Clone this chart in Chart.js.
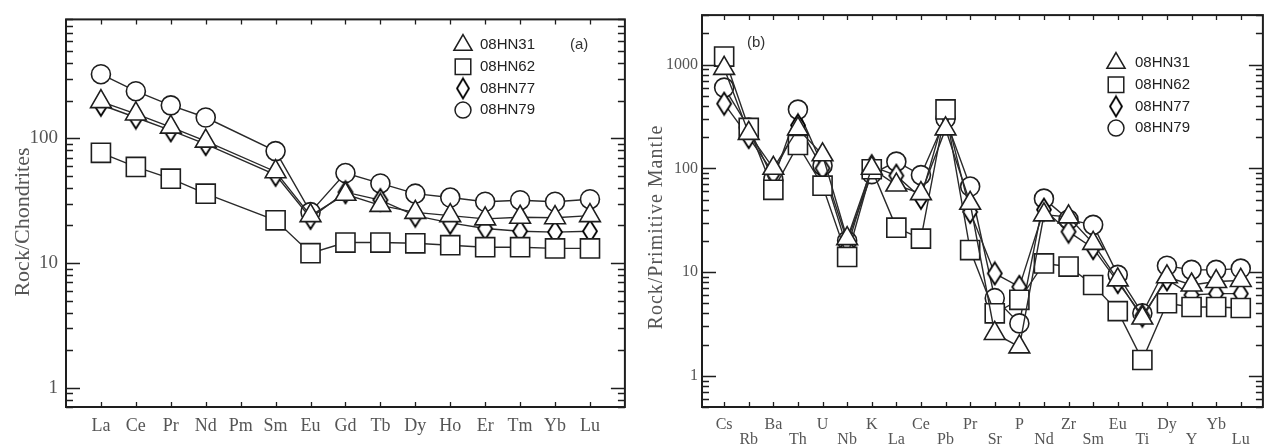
<!DOCTYPE html>
<html lang="en">
<head>
    <meta charset="UTF-8">
    <title>08HN samples - REE and spider diagrams</title>
    <script src="https://cdn.jsdelivr.net/npm/chart.js"></script>
    <style>
        html, body {
            margin: 0;
            padding: 0;
            background: #fff;
        }
        body {
            position: relative;
            width: 1278px;
            height: 445px;
            overflow: hidden;
        }
        canvas {
            position: absolute;
            top: 0;
        }
        #reeChart { left: 0; }
        #spiderChart { left: 640px; }
    </style>
</head>
<body>
    <canvas id="reeChart" width="640" height="445"></canvas>
    <canvas id="spiderChart" width="638" height="445"></canvas>
    <script>
        // sample names (legend order)
        const sampleNames = ['08HN31', '08HN62', '08HN77', '08HN79'];

        // (a) chondrite-normalised REE
        const reeLabels = ['La', 'Ce', 'Pr', 'Nd', 'Pm', 'Sm', 'Eu', 'Gd', 'Tb', 'Dy', 'Ho', 'Er', 'Tm', 'Yb', 'Lu'];
        const ree08HN31 = [197, 157, 123, 95, null, 54, 24, 35.6, 29, 25.5, 24, 22.6, 23.3, 23.1, 24];
        const ree08HN62 = [76.6, 59, 47.5, 36, null, 22, 12, 14.6, 14.6, 14.4, 13.9, 13.4, 13.4, 13.1, 13.1];
        const ree08HN77 = [186, 147, 116, 90, null, 51, 23, 37, 32, 24, 21, 18.9, 18, 17.7, 18];
        const ree08HN79 = [327, 239, 184, 147, null, 79, 25.6, 52.7, 43.5, 36, 33.5, 31, 31.9, 31, 32.5];
        const reeYTicks = [1, 10, 100];

        // (b) primitive-mantle-normalised trace elements
        const spiderLabels = ['Cs', 'Rb', 'Ba', 'Th', 'U', 'Nb', 'K', 'La', 'Ce', 'Pb', 'Pr', 'Sr', 'P', 'Nd', 'Zr', 'Sm', 'Eu', 'Ti', 'Dy', 'Y', 'Yb', 'Lu'];
        const sp08HN31 = [920, 217, 100, 240, 135, 21, 100, 69, 57, 240, 46, 2.56, 1.9, 35.6, 34, 18.9, 8.4, 3.6, 9.0, 7.5, 8.1, 8.3];
        const sp08HN62 = [1195, 245, 62, 168, 68, 14, 98, 26.8, 21, 370, 16.3, 4.0, 5.4, 12.1, 11.3, 7.5, 4.2, 1.42, 5.0, 4.6, 4.6, 4.5];
        const sp08HN77 = [420, 200, 90, 260, 100, 17, 105, 85, 52, 350, 38, 9.7, 7.2, 40, 24.5, 17, 8, 3.8, 8.5, 6, 6.2, 6.2];
        const sp08HN79 = [600, 247, 78, 368, 106, 20, 88, 116, 86, 300, 66.7, 5.6, 3.2, 51, 32, 28.5, 9.4, 4.0, 11.5, 10.5, 10.5, 10.8];
        const spiderYTicks = [1, 10, 100, 1000];

        const ink = '#1e1e1e';
        const labelGray = '#555';
        const serif = '"Liberation Serif", "DejaVu Serif", serif';
        const sans = '"Liberation Sans", Arial, sans-serif';

        // tall narrow diamond, used as a point image
        function makeDiamond(w, h) {
            const c = document.createElement('canvas');
            c.width = w + 4;
            c.height = h + 4;
            const g = c.getContext('2d');
            g.beginPath();
            g.moveTo(c.width / 2, 2);
            g.lineTo(c.width - 2, c.height / 2);
            g.lineTo(c.width / 2, c.height - 2);
            g.lineTo(2, c.height / 2);
            g.closePath();
            g.fillStyle = '#fff';
            g.fill();
            g.lineWidth = 1.8;
            g.strokeStyle = '#000';
            g.stroke();
            return c;
        }

        const markers = [
            { style: 'triangle', radius: 12, legendStyle: 'triangle', legendRadius: 10.5 },
            { style: 'rect', radius: 13.5, legendStyle: 'rect', legendRadius: 11 },
            { style: makeDiamond(14, 22), radius: 11, legendStyle: makeDiamond(12, 20), legendRadius: 10 },
            { style: 'circle', radius: 9.5, legendStyle: 'circle', legendRadius: 8 }
        ];

        function buildDatasets(series) {
            return series.map((vals, k) => ({
                label: sampleNames[k],
                data: vals.map((v, i) => ({ x: i, y: v })),
                borderColor: '#2a2a2a',
                borderWidth: 1.4,
                pointStyle: markers[k].style,
                pointRadius: markers[k].radius,
                pointBackgroundColor: '#fff',
                pointBorderColor: ink,
                pointBorderWidth: 1.6,
                spanGaps: true,
                tension: 0
            }));
        }

        // frame with inward ticks on all four sides
        const frameTicks = {
            id: 'frameTicks',
            afterDraw(chart, args, o) {
                const { ctx, chartArea: a } = chart;
                const xs = chart.scales.x, ys = chart.scales.y;
                ctx.save();
                ctx.strokeStyle = ink;
                ctx.lineWidth = 1.3;
                ctx.beginPath();
                xs.ticks.forEach(t => {
                    const px = Math.round(xs.getPixelForValue(t.value)) + 0.5;
                    ctx.moveTo(px, a.bottom);
                    ctx.lineTo(px, a.bottom - o.xTick);
                    ctx.moveTo(px, a.top);
                    ctx.lineTo(px, a.top + o.xTick);
                });
                const lo = Math.floor(Math.log10(ys.min)), hi = Math.ceil(Math.log10(ys.max));
                for (let d = lo; d <= hi; d++) {
                    for (let m = 1; m <= 9; m++) {
                        const v = m * Math.pow(10, d);
                        if (v < ys.min || v > ys.max) continue;
                        const py = Math.round(ys.getPixelForValue(v)) + 0.5;
                        const len = m === 1 ? o.major : o.minor;
                        ctx.moveTo(a.left, py);
                        ctx.lineTo(a.left + len, py);
                        ctx.moveTo(a.right, py);
                        ctx.lineTo(a.right - len, py);
                    }
                }
                ctx.stroke();
                ctx.lineWidth = 2;
                ctx.strokeRect(a.left, a.top, a.right - a.left, a.bottom - a.top);
                ctx.restore();
            }
        };

        // legend box, panel letter and y title
        const sampleKey = {
            id: 'sampleKey',
            afterDraw(chart, args, o) {
                const ctx = chart.ctx;
                ctx.save();
                chart.data.datasets.forEach((ds, k) => {
                    const yy = o.y + k * o.step;
                    ctx.fillStyle = '#fff';
                    ctx.strokeStyle = ink;
                    ctx.lineWidth = 1.5;
                    Chart.helpers.drawPoint(ctx, {
                        pointStyle: markers[k].legendStyle,
                        radius: markers[k].legendRadius,
                        rotation: 0,
                        borderWidth: 1.5
                    }, o.x, yy);
                    ctx.fillStyle = '#222';
                    ctx.font = '15px ' + sans;
                    ctx.textAlign = 'left';
                    ctx.textBaseline = 'middle';
                    ctx.fillText(ds.label, o.textX, yy);
                });
                ctx.fillStyle = '#333';
                ctx.font = '15px ' + sans;
                ctx.textAlign = 'left';
                ctx.textBaseline = 'middle';
                ctx.fillText(o.panel, o.panelX, o.panelY);

                ctx.translate(o.titleX, o.titleY);
                ctx.rotate(-Math.PI / 2);
                ctx.fillStyle = labelGray;
                ctx.font = o.titleSize + 'px ' + serif;
                ctx.letterSpacing = o.titleSpacing;
                ctx.textAlign = 'center';
                ctx.fillText(o.title, 0, 0);
                ctx.restore();
            }
        };

        function makeOptions(c) {
            return {
                responsive: false,
                animation: false,
                events: [],
                layout: { padding: { top: 12, right: c.padRight, left: 0, bottom: 0 } },
                plugins: {
                    legend: { display: false },
                    tooltip: { enabled: false },
                    frameTicks: { xTick: 5, major: 14, minor: 7 },
                    sampleKey: c.key
                },
                scales: {
                    x: {
                        type: 'linear',
                        min: c.xMin,
                        max: c.xMax,
                        grid: { display: false, drawTicks: false },
                        border: { display: false },
                        afterBuildTicks: s => { s.ticks = c.labels.map((_, i) => ({ value: i })); },
                        afterFit: s => { s.height = 38; },
                        ticks: {
                            autoSkip: false,
                            maxRotation: 0,
                            minRotation: 0,
                            padding: c.xPad,
                            color: labelGray,
                            font: { family: serif, size: c.xFont, lineHeight: c.xLine },
                            callback: c.xLabel
                        }
                    },
                    y: {
                        type: 'logarithmic',
                        min: c.yMin,
                        max: c.yMax,
                        grid: { display: false, drawTicks: false },
                        border: { display: false },
                        afterBuildTicks: s => { s.ticks = c.yTicks.map(v => ({ value: v })); },
                        afterFit: s => { s.width = c.yWidth; },
                        ticks: {
                            padding: c.yPad,
                            color: labelGray,
                            font: { family: serif, size: c.yFont },
                            callback: v => String(v)
                        }
                    }
                }
            };
        }

        new Chart(document.getElementById('reeChart'), {
            type: 'line',
            data: { datasets: buildDatasets([ree08HN31, ree08HN62, ree08HN77, ree08HN79]) },
            options: makeOptions({
                labels: reeLabels,
                xMin: -1, xMax: 15,
                yMin: 0.7, yMax: 900,
                yTicks: reeYTicks,
                padRight: 10,
                yWidth: 66,
                yPad: 8, yFont: 19,
                xPad: 8, xFont: 18, xLine: 1.2,
                xLabel: v => reeLabels[v],
                key: {
                    x: 463, y: 45, step: 21.7, textX: 480,
                    panel: '(a)', panelX: 570, panelY: 45,
                    title: 'Rock/Chondrites', titleX: 23, titleY: 222, titleSize: 22, titleSpacing: '0px'
                }
            }),
            plugins: [frameTicks, sampleKey]
        });

        new Chart(document.getElementById('spiderChart'), {
            type: 'line',
            data: { datasets: buildDatasets([sp08HN31, sp08HN62, sp08HN77, sp08HN79]) },
            options: makeOptions({
                labels: spiderLabels,
                xMin: -0.9, xMax: 21.9,
                yMin: 0.5, yMax: 3000,
                yTicks: spiderYTicks,
                padRight: 1,
                yWidth: 62,
                yPad: 4, yFont: 16,
                xPad: 10, xFont: 16, xLine: 0.95,
                xLabel: v => (v % 2 === 0 ? [spiderLabels[v], ''] : ['', spiderLabels[v]]),
                key: {
                    x: 476, y: 63, step: 21.7, textX: 495,
                    panel: '(b)', panelX: 107, panelY: 43,
                    title: 'Rock/Primitive Mantle', titleX: 17, titleY: 227, titleSize: 20, titleSpacing: '1px'
                }
            }),
            plugins: [frameTicks, sampleKey]
        });
    </script>
</body>
</html>
